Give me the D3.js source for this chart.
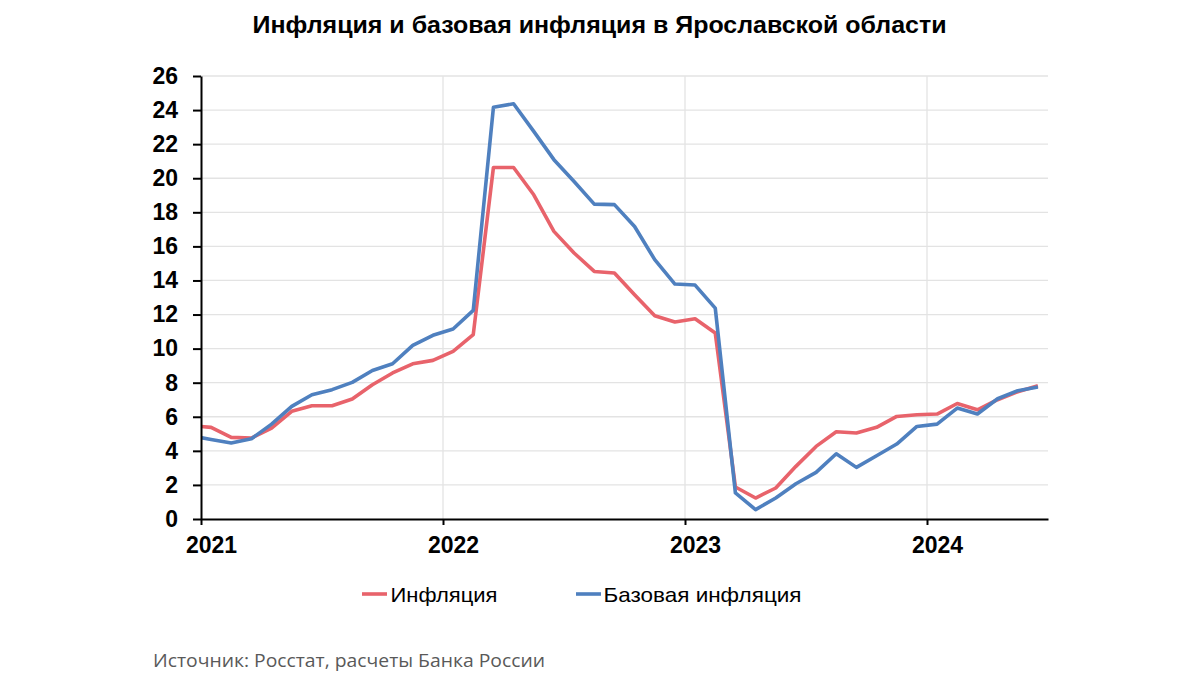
<!DOCTYPE html>
<html><head><meta charset="utf-8">
<script src="https://cdn.jsdelivr.net/npm/d3@7"></script>
<style>body{margin:0;background:#fff}svg{display:block}</style>
</head><body>
<svg id="c" width="1200" height="675"></svg>
<script>
// Months: Dec 2020 .. Jun 2024
const months = ["2020-12","2021-01","2021-02","2021-03","2021-04","2021-05","2021-06","2021-07","2021-08","2021-09","2021-10","2021-11","2021-12",
"2022-01","2022-02","2022-03","2022-04","2022-05","2022-06","2022-07","2022-08","2022-09","2022-10","2022-11","2022-12",
"2023-01","2023-02","2023-03","2023-04","2023-05","2023-06","2023-07","2023-08","2023-09","2023-10","2023-11","2023-12",
"2024-01","2024-02","2024-03","2024-04","2024-05","2024-06"];
const inflation = [5.48,5.38,4.79,4.75,5.34,6.32,6.65,6.65,7.04,7.88,8.57,9.11,9.31,
9.84,10.82,20.63,20.63,19.03,16.88,15.61,14.53,14.44,13.16,11.93,11.56,
11.75,10.92,1.88,1.23,1.82,3.09,4.26,5.12,5.05,5.38,6.02,6.12,
6.16,6.78,6.41,7.0,7.47,7.82];
const coreInflation = [4.88,4.67,4.46,4.71,5.57,6.61,7.29,7.59,8.02,8.72,9.11,10.19,10.78,
11.15,12.24,24.16,24.37,22.75,21.09,19.81,18.48,18.45,17.17,15.22,13.79,
13.73,12.38,1.53,0.55,1.23,2.07,2.74,3.83,3.03,3.71,4.40,5.43,
5.57,6.51,6.16,7.06,7.53,7.75];
const yearTicks = [2021, 2022, 2023, 2024];
const yTicks = d3.range(0, 27, 2);
const seriesNames = ["Инфляция", "Базовая инфляция"];
const colors = ["#e8636b", "#4f80bf"];
const title = "Инфляция и базовая инфляция в Ярославской области";
const source = "Источник: Росстат, расчеты Банка России";

const svg = d3.select("#c");
const L = 201, R = 1048, T = 76, B = 519;
const FONT = "Liberation Sans, Arial, sans-serif";
// month index relative to Jan 2021
const mIdx = s => { const [y, m] = s.split("-").map(Number); return (y - 2021) * 12 + (m - 1); };
const x = d3.scaleLinear().domain([0, 42]).range([L, R]);
const y = d3.scaleLinear().domain([0, 26]).range([B, T]);

svg.append("text").attr("x", 252.5).attr("y", 33)
  .attr("font-family", FONT).attr("font-weight", "bold")
  .attr("font-size", 23).attr("fill", "#000")
  .attr("textLength", 694).attr("lengthAdjust", "spacingAndGlyphs").text(title);

// grid
const g = svg.append("g");
g.selectAll(".hg").data(yTicks.filter(d => d > 0)).join("line")
  .attr("x1", L).attr("x2", R).attr("y1", d => y(d)).attr("y2", d => y(d))
  .attr("stroke", "#e3e3e3").attr("stroke-width", 1.3);
g.selectAll(".vg").data(yearTicks.slice(1)).join("line")
  .attr("x1", d => x((d - 2021) * 12)).attr("x2", d => x((d - 2021) * 12))
  .attr("y1", T).attr("y2", B).attr("stroke", "#e3e3e3").attr("stroke-width", 1.3);

// lines
svg.append("clipPath").attr("id", "clip").append("rect")
  .attr("x", L).attr("y", 0).attr("width", R - L).attr("height", 675);
const line = d3.line().x((d, i) => x(mIdx(months[i]) + 0.5)).y(d => y(d));
[inflation, coreInflation].forEach((s, k) => {
  svg.append("path").datum(s).attr("d", line).attr("fill", "none")
    .attr("stroke", colors[k]).attr("stroke-width", 3.6)
    .attr("stroke-linejoin", "round").attr("clip-path", "url(#clip)");
});

// axes
const yAxis = d3.axisLeft(y).tickValues(yTicks).tickSize(8).tickSizeOuter(0).tickPadding(15);
const ya = svg.append("g").attr("transform", `translate(${L},0)`).call(yAxis);
const xAxis = d3.axisBottom(x).tickValues(yearTicks.map(d => (d - 2021) * 12))
  .tickFormat((d, i) => yearTicks[i]).tickSize(6).tickSizeOuter(0).tickPadding(12);
const xa = svg.append("g").attr("transform", `translate(0,${B})`).call(xAxis);
[ya, xa].forEach(a => {
  a.select(".domain").attr("stroke", "#000").attr("stroke-width", 2);
  a.selectAll(".tick line").attr("stroke", "#000").attr("stroke-width", 2);
  a.selectAll("text").attr("font-family", FONT)
    .attr("font-weight", "bold").attr("font-size", 23).attr("fill", "#000");
});
// year labels sit under the middle of January
xa.selectAll(".tick text").attr("dx", x(0.5) - x(0));

// legend
const leg = [{x: 362, tx: 390.5, w: 107}, {x: 576, tx: 603.5, w: 198}];
leg.forEach((p, k) => {
  svg.append("line").attr("x1", p.x).attr("x2", p.x + 25).attr("y1", 594).attr("y2", 594)
    .attr("stroke", colors[k]).attr("stroke-width", 3.6);
  svg.append("text").attr("x", p.tx).attr("y", 602)
    .attr("font-family", FONT).attr("font-size", 21)
    .attr("textLength", p.w).attr("lengthAdjust", "spacingAndGlyphs")
    .attr("fill", "#000").text(seriesNames[k]);
});

svg.append("text").attr("x", 153).attr("y", 666.5)
  .attr("font-family", "Open Sans, sans-serif").attr("font-size", 19)
  .attr("textLength", 392).attr("lengthAdjust", "spacingAndGlyphs")
  .attr("fill", "#595959").text(source);
</script>
</body></html>
